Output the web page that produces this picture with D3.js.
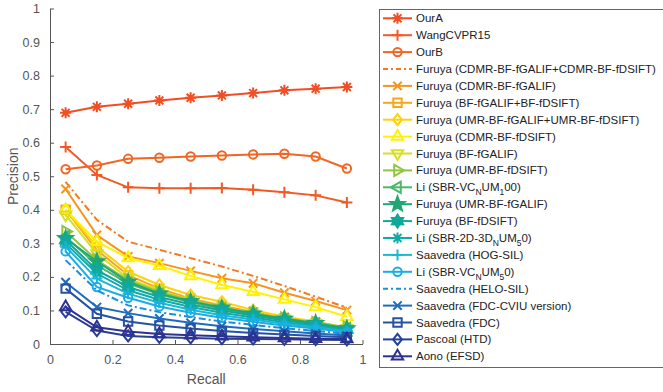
<!DOCTYPE html>
<html lang="en">
<head>
  <meta charset="UTF-8">
  <title>Precision / Recall</title>
  <script src="https://cdn.jsdelivr.net/npm/d3@7"></script>
  <style>
    body { margin: 0; background: #fff; }
    svg { display: block; font-family: "Liberation Sans", Arial, sans-serif; }
  </style>
</head>
<body>
  <div id="container"></div>

  <script>
    // recall positions and tick values
    const recall = [0.05, 0.15, 0.25, 0.35, 0.45, 0.55, 0.65, 0.75, 0.85, 0.95];
    const xTicks = [0, 0.2, 0.4, 0.6, 0.8, 1];
    const yTicks = [0, 0.1, 0.2, 0.3, 0.4, 0.5, 0.6, 0.7, 0.8, 0.9, 1];

    // legend labels, {x} = subscript
    const labels = [
      "OurA",
      "WangCVPR15",
      "OurB",
      "Furuya (CDMR-BF-fGALIF+CDMR-BF-fDSIFT)",
      "Furuya (CDMR-BF-fGALIF)",
      "Furuya (BF-fGALIF+BF-fDSIFT)",
      "Furuya (UMR-BF-fGALIF+UMR-BF-fDSIFT)",
      "Furuya (CDMR-BF-fDSIFT)",
      "Furuya (BF-fGALIF)",
      "Furuya (UMR-BF-fDSIFT)",
      "Li (SBR-VC{N}UM{1}00)",
      "Furuya (UMR-BF-fGALIF)",
      "Furuya (BF-fDSIFT)",
      "Li (SBR-2D-3D{N}UM{5}0)",
      "Saavedra (HOG-SIL)",
      "Li (SBR-VC{N}UM{5}0)",
      "Saavedra (HELO-SIL)",
      "Saavedra (FDC-CVIU version)",
      "Saavedra (FDC)",
      "Pascoal (HTD)",
      "Aono (EFSD)"
    ];

    // precision values per method
    const ourA       = [0.689, 0.707, 0.716, 0.726, 0.734, 0.741, 0.748, 0.756, 0.761, 0.766];
    const wang       = [0.587, 0.504, 0.467, 0.464, 0.464, 0.465, 0.460, 0.452, 0.443, 0.422];
    const ourB       = [0.521, 0.532, 0.552, 0.555, 0.559, 0.562, 0.565, 0.567, 0.559, 0.523];
    const cdmrBoth   = [0.483, 0.370, 0.305, 0.281, 0.256, 0.231, 0.203, 0.173, 0.141, 0.108];
    const cdmrGalif  = [0.462, 0.325, 0.261, 0.241, 0.218, 0.196, 0.181, 0.153, 0.128, 0.101];
    const bfBoth     = [0.400, 0.280, 0.205, 0.165, 0.135, 0.115, 0.095, 0.077, 0.063, 0.045];
    const umrBoth    = [0.400, 0.290, 0.216, 0.176, 0.146, 0.126, 0.101, 0.081, 0.067, 0.048];
    const cdmrDsift  = [0.400, 0.305, 0.256, 0.233, 0.203, 0.176, 0.156, 0.133, 0.110, 0.081];
    const bfGalif    = [0.385, 0.270, 0.195, 0.160, 0.130, 0.110, 0.090, 0.075, 0.062, 0.047];
    const umrDsift   = [0.335, 0.250, 0.190, 0.155, 0.130, 0.110, 0.092, 0.077, 0.064, 0.050];
    const liVc100    = [0.320, 0.235, 0.180, 0.148, 0.124, 0.104, 0.088, 0.073, 0.060, 0.046];
    const umrGalif   = [0.315, 0.246, 0.185, 0.150, 0.127, 0.108, 0.090, 0.075, 0.062, 0.046];
    const bfDsift    = [0.310, 0.220, 0.170, 0.140, 0.118, 0.100, 0.085, 0.070, 0.058, 0.043];
    const li2d3d     = [0.300, 0.210, 0.160, 0.132, 0.110, 0.093, 0.079, 0.065, 0.054, 0.040];
    const hogSil     = [0.290, 0.195, 0.150, 0.123, 0.102, 0.086, 0.073, 0.060, 0.050, 0.037];
    const liVc50     = [0.276, 0.170, 0.138, 0.112, 0.093, 0.078, 0.066, 0.055, 0.046, 0.035];
    const heloSil    = [0.250, 0.160, 0.115, 0.095, 0.080, 0.067, 0.057, 0.047, 0.039, 0.030];
    const fdcCviu    = [0.184, 0.110, 0.092, 0.076, 0.063, 0.053, 0.045, 0.038, 0.031, 0.025];
    const fdc        = [0.165, 0.090, 0.067, 0.055, 0.046, 0.039, 0.033, 0.028, 0.024, 0.020];
    const pascoal    = [0.096, 0.040, 0.024, 0.020, 0.018, 0.016, 0.015, 0.014, 0.013, 0.012];
    const aono       = [0.110, 0.050, 0.037, 0.030, 0.026, 0.023, 0.020, 0.018, 0.016, 0.015];

    const values = [ourA, wang, ourB, cdmrBoth, cdmrGalif, bfBoth, umrBoth, cdmrDsift, bfGalif,
      umrDsift, liVc100, umrGalif, bfDsift, li2d3d, hogSil, liVc50, heloSil, fdcCviu, fdc, pascoal, aono];

    // line colour, marker and dash for each method
    const styles = [
      { color: "#f04e23", marker: "asterisk" },
      { color: "#f15a24", marker: "plus" },
      { color: "#f26522", marker: "circle" },
      { color: "#f47920", marker: null, dash: "7,3,2,3" },
      { color: "#f7941d", marker: "cross" },
      { color: "#f9a51a", marker: "square" },
      { color: "#fdd20a", marker: "diamond" },
      { color: "#fff200", marker: "triUp" },
      { color: "#d7df23", marker: "triDown" },
      { color: "#8dc63f", marker: "triRight" },
      { color: "#4fb76a", marker: "triLeft" },
      { color: "#1fa775", marker: "pentagram" },
      { color: "#11a89a", marker: "hexagram" },
      { color: "#10aaa8", marker: "asterisk" },
      { color: "#1ab9d3", marker: "plus" },
      { color: "#1aace6", marker: "circle" },
      { color: "#1b8fd9", marker: null, dash: "7,3,2,3" },
      { color: "#1f6cbf", marker: "cross" },
      { color: "#2552a3", marker: "square" },
      { color: "#283f96", marker: "diamond" },
      { color: "#2e3192", marker: "triUp" }
    ];

    const width = 663;
    const height = 392;
    const axisColor = "#555";

    const x = d3.scaleLinear().domain([0, 1]).range([50, 362.5]);
    const y = d3.scaleLinear().domain([0, 1]).range([344, 8.5]);

    // marker shapes, size = radius
    function star(c, r, n, inner) {
      for (let i = 0; i < 2 * n; i++) {
        const a = -Math.PI / 2 + i * Math.PI / n;
        const rr = i % 2 ? r * inner : r;
        if (i === 0) c.moveTo(rr * Math.cos(a), rr * Math.sin(a));
        else c.lineTo(rr * Math.cos(a), rr * Math.sin(a));
      }
      c.closePath();
    }
    function poly(c, pts) {
      c.moveTo(pts[0][0], pts[0][1]);
      pts.slice(1).forEach(p => c.lineTo(p[0], p[1]));
      c.closePath();
    }
    const shapes = {
      circle: { r: 4.2, fill: false, draw(c, r) { c.moveTo(r, 0); c.arc(0, 0, r, 0, 2 * Math.PI); } },
      plus: { r: 5.5, fill: false, draw(c, r) { c.moveTo(-r, 0); c.lineTo(r, 0); c.moveTo(0, -r); c.lineTo(0, r); } },
      cross: { r: 4.2, fill: false, draw(c, r) { c.moveTo(-r, -r); c.lineTo(r, r); c.moveTo(-r, r); c.lineTo(r, -r); } },
      asterisk: { r: 5.5, fill: false, draw(c, r) {
        const d = r * 0.72;
        c.moveTo(-r, 0); c.lineTo(r, 0); c.moveTo(0, -r); c.lineTo(0, r);
        c.moveTo(-d, -d); c.lineTo(d, d); c.moveTo(-d, d); c.lineTo(d, -d);
      } },
      square: { r: 4.2, fill: false, draw(c, r) { c.rect(-r, -r, 2 * r, 2 * r); } },
      diamond: { r: 5.5, fill: false, draw(c, r) { poly(c, [[0, -r], [r * 0.8, 0], [0, r], [-r * 0.8, 0]]); } },
      triUp: { r: 6.5, fill: false, draw(c, r) { poly(c, [[0, -r], [r * 0.87, r * 0.5], [-r * 0.87, r * 0.5]]); } },
      triDown: { r: 6.5, fill: false, draw(c, r) { poly(c, [[0, r], [r * 0.87, -r * 0.5], [-r * 0.87, -r * 0.5]]); } },
      triRight: { r: 6.5, fill: false, draw(c, r) { poly(c, [[r, 0], [-r * 0.5, r * 0.87], [-r * 0.5, -r * 0.87]]); } },
      triLeft: { r: 6.5, fill: false, draw(c, r) { poly(c, [[-r, 0], [r * 0.5, r * 0.87], [r * 0.5, -r * 0.87]]); } },
      pentagram: { r: 7.5, fill: true, draw(c, r) { star(c, r, 5, 0.42); } },
      hexagram: { r: 6.5, fill: true, draw(c, r) { star(c, r, 6, 0.6); } }
    };

    const svg = d3.select("#container")
      .append("svg")
      .attr("width", width)
      .attr("height", height)
      .attr("viewBox", [0, 0, width, height]);

    // axes (MATLAB style, ticks pointing inward)
    const fmt = d3.format("~g");
    const gx = svg.append("g")
      .attr("transform", `translate(0,${y(0)})`)
      .call(d3.axisBottom(x).tickValues(xTicks).tickSize(-4).tickSizeOuter(0).tickPadding(11).tickFormat(fmt));
    const gy = svg.append("g")
      .attr("transform", `translate(${x(0)},0)`)
      .call(d3.axisLeft(y).tickValues(yTicks).tickSize(-4).tickSizeOuter(0).tickPadding(10).tickFormat(fmt));
    [gx, gy].forEach(g => {
      g.select(".domain").attr("stroke", axisColor);
      g.selectAll(".tick line").attr("stroke", axisColor);
      g.selectAll(".tick text").attr("fill", axisColor).attr("font-size", 12.5).attr("font-family", null);
    });

    svg.append("text")
      .attr("x", (x(0) + x(1)) / 2)
      .attr("y", 384)
      .attr("text-anchor", "middle")
      .attr("fill", axisColor)
      .attr("font-size", 14)
      .text("Recall");
    svg.append("text")
      .attr("transform", `translate(18,${(y(0) + y(1)) / 2}) rotate(-90)`)
      .attr("text-anchor", "middle")
      .attr("fill", axisColor)
      .attr("font-size", 14)
      .text("Precision");

    // series
    const line = d3.line().x((d, i) => x(recall[i])).y(d => y(d));
    const markerPath = name => d3.symbol().type(shapes[name]).size(shapes[name].r)();

    values.forEach((vals, k) => {
      const s = styles[k];
      const g = svg.append("g");
      g.append("path")
        .attr("d", line(vals))
        .attr("fill", "none")
        .attr("stroke", s.color)
        .attr("stroke-width", 2)
        .attr("stroke-dasharray", s.dash || null);
      if (s.marker) {
        g.selectAll("path.m")
          .data(vals)
          .join("path")
          .attr("class", "m")
          .attr("transform", (d, i) => `translate(${x(recall[i])},${y(d)})`)
          .attr("d", markerPath(s.marker))
          .attr("fill", shapes[s.marker].fill ? s.color : "none")
          .attr("stroke", s.color)
          .attr("stroke-width", 2);
      }
    });

    // legend
    const legX = 379, legTop = 9, legBottom = 367, rowStep = 16.9, row0 = 18.3;
    svg.append("rect")
      .attr("x", legX + 0.5)
      .attr("y", legTop + 0.5)
      .attr("width", width + 10 - legX)
      .attr("height", legBottom - legTop)
      .attr("fill", "#fff")
      .attr("stroke", "#666");

    const entries = labels.map((label, i) => ({ label, style: styles[i], i }));
    const leg = svg.append("g")
      .selectAll("g")
      .data(entries)
      .join("g")
      .attr("transform", d => `translate(0,${row0 + d.i * rowStep})`);

    leg.append("line")
      .attr("x1", 383).attr("x2", 412)
      .attr("stroke", d => d.style.color)
      .attr("stroke-width", 2)
      .attr("stroke-dasharray", d => d.style.dash ? "5,3,2,3" : null);

    leg.filter(d => d.style.marker)
      .append("path")
      .attr("transform", "translate(397.5,0)")
      .attr("d", d => markerPath(d.style.marker))
      .attr("fill", d => shapes[d.style.marker].fill ? d.style.color : "none")
      .attr("stroke", d => d.style.color)
      .attr("stroke-width", 2);

    leg.append("text")
      .attr("x", 416)
      .attr("dy", "0.35em")
      .attr("font-size", 11.5)
      .attr("fill", "#222")
      .each(function(d) {
        const t = d3.select(this);
        let shift = 0;
        d.label.split(/(\{[^}]*\})/).filter(p => p).forEach(p => {
          if (p[0] === "{") {
            t.append("tspan").attr("font-size", 8.5).attr("dy", 4 - shift).text(p.slice(1, -1));
            shift = 4;
          } else {
            t.append("tspan").attr("dy", shift ? -shift : null).text(p);
            shift = 0;
          }
        });
      });
  </script>
</body>
</html>
